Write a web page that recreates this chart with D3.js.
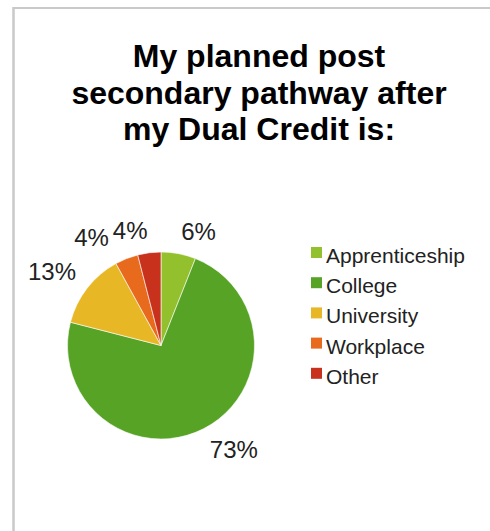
<!DOCTYPE html>
<html>
<head>
<meta charset="utf-8">
<script src="https://cdn.jsdelivr.net/npm/d3@7/dist/d3.min.js"></script>
<style>
  html, body { margin: 0; padding: 0; background: #fff; }
  svg { display: block; font-family: Arial, "Liberation Sans", sans-serif; }
</style>
</head>
<body>
<svg id="chart" width="490" height="531"></svg>
<script>
// Survey answers: planned pathway after Dual Credit (percent of respondents)
const categories = ["Apprenticeship", "College", "University", "Workplace", "Other"];
const percents = [6, 73, 13, 4, 4];
const colors = ["#93c02d", "#56a325", "#e7b725", "#e86a1d", "#c8321c"];
const titleLines = ["My planned post", "secondary pathway after", "my Dual Credit is:"];

const W = 490, H = 531;
const svg = d3.select("#chart");

// frame edges (top and left)
svg.append("line").attr("x1", 13).attr("x2", W).attr("y1", 8).attr("y2", 8)
  .attr("stroke", "#c9c9c9").attr("stroke-width", 2);
svg.append("line").attr("x1", 13.5).attr("x2", 13.5).attr("y1", 7).attr("y2", H)
  .attr("stroke", "#c9c9c9").attr("stroke-width", 2.5);

// title
svg.append("g").selectAll("text").data(titleLines).join("text")
  .attr("x", 259)
  .attr("y", (d, i) => 67 + i * 36.5)
  .attr("text-anchor", "middle")
  .attr("font-size", 32)
  .attr("font-weight", "bold")
  .attr("fill", "#000")
  .text(d => d);

// pie
const cx = 161, cy = 345.5, r = 93.5;
const data = categories.map((c, i) => ({ name: c, value: percents[i], color: colors[i] }));
const pie = d3.pie().sort(null).value(d => d.value);
const arcs = pie(data);
const arc = d3.arc().innerRadius(0).outerRadius(r);

const g = svg.append("g").attr("transform", `translate(${cx},${cy})`);
g.selectAll("path").data(arcs).join("path")
  .attr("d", arc)
  .attr("fill", d => d.data.color)
  .attr("stroke", "#fff")
  .attr("stroke-width", 0.6);

// outside percentage labels: box corner anchored on a ring around the pie
const labelSize = 24, cap = labelSize * 0.716, R = r + 14;
const labels = g.selectAll("text.pct").data(arcs).join("text")
  .attr("class", "pct")
  .attr("font-size", labelSize)
  .attr("fill", "#222")
  .text(d => d.data.value + "%");

const boxes = [];
labels.each(function (d) {
  const a = (d.startAngle + d.endAngle) / 2;
  const px = R * Math.sin(a), py = -R * Math.cos(a);
  const w = this.getComputedTextLength();
  const right = Math.sin(a) >= 0;
  const top = Math.cos(a) >= 0;
  const x0 = right ? px : px - w;
  const base = top ? py : py + cap;
  boxes.push({ node: this, a, w, right, x0, base });
});

// resolve overlaps on each side, walking away from 12 o'clock
function resolve(list, dir) {
  for (let i = 1; i < list.length; i++) {
    const p = list[i - 1], b = list[i];
    const yOverlap = Math.abs(p.base - b.base) < cap + 2;
    if (!yOverlap) continue;
    if (dir < 0 && b.x0 + b.w > p.x0 - 4) b.x0 = p.x0 - 4 - b.w;
    if (dir > 0 && b.x0 < p.x0 + p.w + 4) b.x0 = p.x0 + p.w + 4;
  }
}
const leftSide = boxes.filter(b => !b.right).sort((a, b) => b.a - a.a);
const rightSide = boxes.filter(b => b.right).sort((a, b) => a.a - b.a);
resolve(leftSide, -1);
resolve(rightSide, 1);
boxes.forEach(b => d3.select(b.node).attr("x", b.x0).attr("y", b.base));

// legend
const legend = svg.append("g").attr("transform", "translate(311,263)");
const rows = legend.selectAll("g").data(data).join("g")
  .attr("transform", (d, i) => `translate(0,${i * 30.2})`);
rows.append("rect")
  .attr("x", 0).attr("y", -16).attr("width", 11).attr("height", 11)
  .attr("fill", d => d.color);
rows.append("text")
  .attr("x", 15).attr("y", 0)
  .attr("font-size", 21)
  .attr("fill", "#222")
  .text(d => d.name);
</script>
</body>
</html>
